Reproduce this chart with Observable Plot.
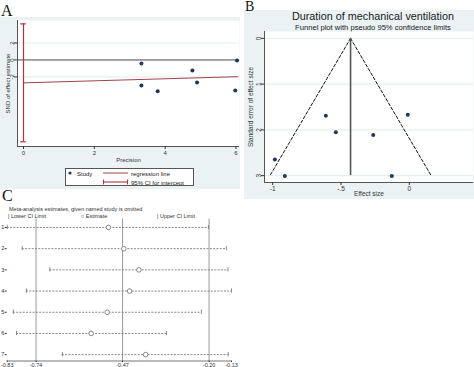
<!DOCTYPE html>
<html><head><meta charset="utf-8">
<script src="https://cdn.jsdelivr.net/npm/d3@7"></script>
<script src="https://cdn.jsdelivr.net/npm/@observablehq/plot@0.6"></script>
<style>
body{margin:0;width:474px;height:367px;overflow:hidden;position:relative;background:#fff;font-family:"Liberation Sans",Arial,sans-serif;color:#222;}
.abs{position:absolute;white-space:nowrap;line-height:1;}
.bg{background:#eaf2f3;}
.letter{font-family:"Liberation Serif","Times New Roman",serif;font-size:16px;color:#111;}
</style></head><body>
<script>
// ---------- data ----------
// Panel A (Galbraith / Egger regression)
const precision = [3.33, 3.33, 3.79, 4.77, 4.90, 5.98, 6.03];
const snd = [-0.41, -3.0, -3.7, -1.24, -2.65, -3.6, -0.06];
const regPrecision = [0, 6.05];
const regSnd = [-2.7, -1.97];
const interceptCI = [-9.65, 4.25];
const aTicksX = [0, 2, 4, 6];
const aTicksY = [2, 0, -2];
// Panel B (funnel plot)
const effectSize = [-0.984, -0.911, -0.611, -0.538, -0.264, -0.128, -0.011];
const standardError = [2.65, 3.01, 1.69, 2.05, 2.11, 3.01, 1.67];
const pooledEffect = -0.43;
const funnelSE = [0, 3];
const funnelLower = [-0.43, -1.02];
const funnelUpper = [-0.43, 0.16];
const bTicksX = [-1, -0.5, 0];
const bTicksY = [0, 1, 2, 3];
// Panel C (leave-one-out sensitivity)
const omittedStudy = [1, 2, 3, 4, 5, 6, 7];
const lowerCI = [-0.83, -0.783, -0.697, -0.77, -0.811, -0.801, -0.658];
const estimate = [-0.514, -0.466, -0.419, -0.448, -0.518, -0.568, -0.398];
const upperCI = [-0.202, -0.146, -0.141, -0.13, -0.224, -0.333, -0.14];
const refLines = [-0.74, -0.47, -0.20];
const cTicksX = [-0.83, -0.74, -0.47, -0.20, -0.13];

// ---------- helpers ----------
const font = '"Liberation Sans", Arial, sans-serif';
function place(el, left, top) {
  const d = document.createElement("div");
  d.className = "abs";
  d.style.left = left + "px"; d.style.top = top + "px";
  d.appendChild(el);
  document.body.appendChild(d);
  return d;
}
function box(left, top, w, h, cls, html, style) {
  const d = document.createElement("div");
  d.className = "abs " + (cls || "");
  Object.assign(d.style, {left: left + "px", top: top + "px"});
  if (w != null) d.style.width = w + "px";
  if (h != null) d.style.height = h + "px";
  if (html != null) d.innerHTML = html;
  if (style) Object.assign(d.style, style);
  document.body.appendChild(d);
  return d;
}
const fmtPlain = d => String(d);

// ---------- backgrounds & letters ----------
box(0, 17, 240, 172, "bg");
box(244, 10, 230, 189, "bg");
box(1, 3, null, null, "letter", "A");
box(245, 0, null, null, "letter", "B", {fontSize: "14px"});
box(2, 188, null, null, "letter", "C");

// ---------- Panel A ----------
const dataA = precision.map((p, i) => ({p, s: snd[i]}));
const regA = regPrecision.map((p, i) => ({p, s: regSnd[i]}));
const aX = [-0.17, 6.1], aY = [-10.2, 4.65];
const plotA = Plot.plot({
  width: 240, height: 172,
  marginLeft: 17, marginRight: 1, marginTop: 3, marginBottom: 43,
  style: {fontFamily: font, fontSize: "6px", background: "transparent", color: "#333", overflow: "visible"},
  x: {domain: aX}, y: {domain: aY},
  marks: [
    Plot.frame({fill: "white", stroke: "none"}),
    Plot.ruleY([2, -2], {stroke: "#e1ebee"}),
    Plot.ruleY([0], {stroke: "#4a4a4a", strokeWidth: 1}),
    Plot.line(regA, {x: "p", y: "s", stroke: "#a2434c", strokeWidth: 1}),
    Plot.ruleX([0], {y1: interceptCI[0], y2: interceptCI[1], stroke: "#b0343e", strokeWidth: 1.2}),
    Plot.ruleY(interceptCI, {x1: -0.08, x2: 0.08, stroke: "#b0343e", strokeWidth: 1.2}),
    Plot.dot(dataA, {x: "p", y: "s", r: 2, fill: "#1c3a5e", stroke: "none"}),
    Plot.ruleY([aY[0]], {stroke: "#555"}),
    Plot.ruleX([aX[0]], {stroke: "#555"}),
    Plot.axisX({ticks: aTicksX, tickFormat: fmtPlain, tickSize: 3, tickPadding: 1, label: "Precision", labelAnchor: "center", labelOffset: 15, labelArrow: "none"}),
    Plot.axisY({ticks: aTicksY, tickFormat: fmtPlain, tickSize: 3, tickPadding: 1, tickRotate: -90, label: "SND of effect estimate", labelAnchor: "center", labelOffset: 12, labelArrow: "none"})
  ]
});
place(plotA, 0, 17);

// legend A
const leg = box(65, 168, 129, 18, "", null, {background: "#fff", border: "1px solid #555", fontSize: "6px", boxSizing: "border-box"});
leg.innerHTML =
  '<svg width="129" height="18" style="position:absolute;left:-1px;top:-1px">' +
  '<circle cx="5" cy="5" r="1.6" fill="#1c3a5e"/>' +
  '<line x1="38" x2="63" y1="5" y2="5" stroke="#a2434c" stroke-width="1"/>' +
  '<line x1="38" x2="63" y1="14" y2="14" stroke="#b0343e" stroke-width="1.1"/>' +
  '<line x1="38.5" x2="38.5" y1="11.5" y2="16.5" stroke="#b0343e" stroke-width="1.1"/>' +
  '<line x1="62.5" x2="62.5" y1="11.5" y2="16.5" stroke="#b0343e" stroke-width="1.1"/>' +
  '</svg>' +
  '<div class="abs" style="left:11px;top:1.5px">Study</div>' +
  '<div class="abs" style="left:65px;top:1.5px">regression line</div>' +
  '<div class="abs" style="left:65px;top:10.5px">95% CI for intercept</div>';

// ---------- Panel B ----------
const titles = box(244, 10, 230, 22, "");
titles.innerHTML =
  '<svg width="230" height="22" style="position:absolute;left:0;top:0;font-family:' + font.replace(/"/g, "'") + '">' +
  '<text x="129" y="9.8" text-anchor="middle" font-size="10.8" fill="#1a1a1a">Duration of mechanical ventilation</text>' +
  '<text x="129" y="19.6" text-anchor="middle" font-size="7.6" fill="#1a1a1a">Funnel plot with pseudo 95% confidence limits</text>' +
  '</svg>';
const dataB = effectSize.map((e, i) => ({e, se: standardError[i]}));
const funLo = funnelSE.map((s, i) => ({e: funnelLower[i], se: s}));
const funHi = funnelSE.map((s, i) => ({e: funnelUpper[i], se: s}));
const bX = [-1.06, 0.47], bY = [-0.15, 3.15];
const plotB = Plot.plot({
  width: 230, height: 189,
  marginLeft: 20, marginRight: 1, marginTop: 21, marginBottom: 17,
  style: {fontFamily: font, fontSize: "6.5px", background: "transparent", color: "#333", overflow: "visible"},
  x: {domain: bX}, y: {domain: bY, reverse: true},
  marks: [
    Plot.frame({fill: "white", stroke: "none"}),
    Plot.ruleY(bTicksY, {stroke: "#e1ebee"}),
    Plot.line(funLo, {x: "e", y: "se", stroke: "#111", strokeWidth: 1, strokeDasharray: "3,2"}),
    Plot.line(funHi, {x: "e", y: "se", stroke: "#111", strokeWidth: 1, strokeDasharray: "3,2"}),
    Plot.ruleX([pooledEffect], {y1: funnelSE[0], y2: funnelSE[1], stroke: "#555", strokeWidth: 1.6}),
    Plot.dot(dataB, {x: "e", y: "se", r: 2, fill: "#1c3a5e", stroke: "none"}),
    Plot.ruleY([bY[1]], {stroke: "#555"}),
    Plot.ruleX([bX[0]], {stroke: "#555"}),
    Plot.axisX({ticks: bTicksX, tickSize: 3, tickPadding: 1, tickFormat: d => d === 0 ? "0" : String(d).replace("0.", "."), label: "Effect size", labelAnchor: "center", labelOffset: 13, labelArrow: "none"}),
    Plot.axisY({ticks: bTicksY, tickFormat: fmtPlain, tickSize: 3, tickPadding: 1, tickRotate: -90, label: "Standard error of effect size", labelAnchor: "center", labelOffset: 16, labelArrow: "none"})
  ]
});
place(plotB, 244, 10);

// ---------- Panel C ----------
box(9, 207, null, null, "", "Meta-analysis estimates, given named study is omitted", {fontSize: "5.5px", color: "#333"});
box(8, 214, null, null, "", "| Lower CI Limit", {fontSize: "5.5px", color: "#333"});
box(81, 214, null, null, "", "○ Estimate", {fontSize: "5.5px", color: "#333"});
box(157, 214, null, null, "", "| Upper CI Limit", {fontSize: "5.5px", color: "#333"});
const dataC = omittedStudy.map((r, i) => ({row: r, lo: lowerCI[i], est: estimate[i], hi: upperCI[i]}));
const cX = [-0.83, -0.13], cY = [0.6, 7.3];
const plotC = Plot.plot({
  width: 240, height: 180,
  marginLeft: 6.7, marginRight: 9, marginTop: 18.5, marginBottom: 19.5,
  style: {fontFamily: font, fontSize: "5.5px", background: "transparent", color: "#333", overflow: "visible"},
  x: {domain: cX}, y: {domain: cY, reverse: true},
  marks: [
    Plot.ruleX(refLines, {stroke: "#9a9a9a", strokeWidth: 1}),
    Plot.ruleY([cY[1]], {stroke: "#777"}),
    Plot.ruleY(dataC, {y: "row", x1: "lo", x2: "hi", stroke: "#7a7a7a", strokeWidth: 0.9, strokeDasharray: "2,1.3"}),
    Plot.ruleX(dataC, {x: "lo", y1: d => d.row - 0.1, y2: d => d.row + 0.1, stroke: "#7a7a7a", strokeWidth: 0.9}),
    Plot.ruleX(dataC, {x: "hi", y1: d => d.row - 0.1, y2: d => d.row + 0.1, stroke: "#7a7a7a", strokeWidth: 0.9}),
    Plot.dot(dataC, {x: "est", y: "row", r: 2.3, stroke: "#7a7a7a", fill: "white", strokeWidth: 0.9}),
    Plot.axisX({ticks: cTicksX, tickSize: 1.5, tickPadding: 0.5, tickFormat: d => d.toFixed(2), label: null}),
    Plot.axisY({ticks: omittedStudy, tickFormat: fmtPlain, tickSize: 2, tickPadding: 1, label: null})
  ]
});
place(plotC, 0, 200);
</script>
</body></html>
